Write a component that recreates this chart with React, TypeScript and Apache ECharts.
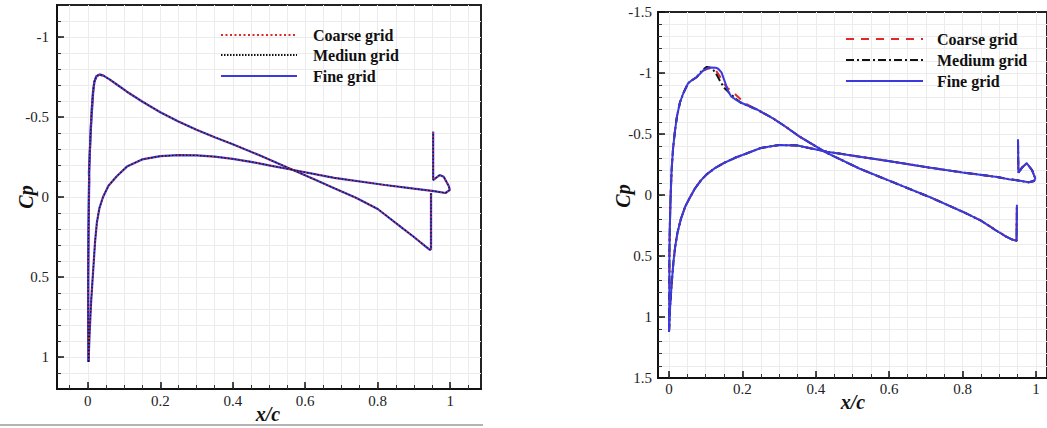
import React, { useEffect, useRef } from "react";
import * as echarts from "echarts";

// ---------- tick values ----------
const leftMajorX = [0, 0.2, 0.4, 0.6, 0.8, 1];
const leftMinorX = [-0.05, 0, 0.05, 0.1, 0.15, 0.2, 0.25, 0.3, 0.35, 0.4, 0.45, 0.5, 0.55, 0.6, 0.65, 0.7, 0.75, 0.8, 0.85, 0.9, 0.95, 1, 1.05];
const leftMajorY = [-1, -0.5, 0, 0.5, 1];
const leftMinorY = [-1.1, -1, -0.9, -0.8, -0.7, -0.6, -0.5, -0.4, -0.3, -0.2, -0.1, 0, 0.1, 0.2, 0.3, 0.4, 0.5, 0.6, 0.7, 0.8, 0.9, 1, 1.1];
const rightMajorX = [0, 0.2, 0.4, 0.6, 0.8, 1];
const rightMinorX = [0, 0.05, 0.1, 0.15, 0.2, 0.25, 0.3, 0.35, 0.4, 0.45, 0.5, 0.55, 0.6, 0.65, 0.7, 0.75, 0.8, 0.85, 0.9, 0.95, 1];
const rightMajorY = [-1.5, -1, -0.5, 0, 0.5, 1, 1.5];
const rightMinorY = [-1.4, -1.3, -1.2, -1.1, -1, -0.9, -0.8, -0.7, -0.6, -0.5, -0.4, -0.3, -0.2, -0.1, 0, 0.1, 0.2, 0.3, 0.4, 0.5, 0.6, 0.7, 0.8, 0.9, 1, 1.1, 1.2, 1.3, 1.4];

const leftLegend = ["Coarse grid", "Mediun grid", "Fine grid"];
const rightLegend = ["Coarse grid", "Medium grid", "Fine grid"];

// ---------- left chart data: [x/c, Cp] ----------
const leftUpper: number[][] = [
  [0.002, 1.03], [0.001, 0.8], [0.001, 0.5], [0.002, 0.2], [0.003, -0.05], [0.005, -0.25],
  [0.008, -0.42], [0.011, -0.55], [0.014, -0.65], [0.018, -0.72], [0.024, -0.755], [0.032, -0.765],
  [0.042, -0.76], [0.06, -0.735], [0.08, -0.703], [0.108, -0.658], [0.15, -0.597], [0.2, -0.53],
  [0.25, -0.472], [0.3, -0.42], [0.35, -0.374], [0.4, -0.33], [0.48, -0.255], [0.56, -0.175],
  [0.62, -0.115], [0.68, -0.055], [0.74, 0.005], [0.8, 0.075], [0.86, 0.18], [0.9, 0.25],
  [0.93, 0.305], [0.944, 0.33], [0.947, 0.325], [0.947, -0.025],
];
const leftUpperFineLE: number[][] = [
  [0.002, 1.03], [0.001, 0.8], [0.001, 0.5], [0.002, 0.2], [0.004, -0.1], [0.003, -0.15],
  [0.006, -0.3], [0.009, -0.46], [0.008, -0.4], [0.012, -0.58], [0.011, -0.52], [0.015, -0.66],
  [0.018, -0.72], [0.024, -0.755], [0.032, -0.765], [0.042, -0.76],
];
const leftLower: number[][] = [
  [0.002, 1.03], [0.005, 0.85], [0.009, 0.66], [0.013, 0.52], [0.016, 0.42], [0.02, 0.28],
  [0.025, 0.16], [0.032, 0.07], [0.042, 0.0], [0.057, -0.07], [0.08, -0.13], [0.108, -0.19],
  [0.15, -0.235], [0.2, -0.255], [0.25, -0.262], [0.3, -0.26], [0.35, -0.252], [0.4, -0.238],
  [0.45, -0.22], [0.5, -0.198], [0.56, -0.172], [0.68, -0.12], [0.82, -0.075], [0.9, -0.052],
  [0.955, -0.037], [0.987, -0.025], [0.999, -0.044], [0.996, -0.069], [0.982, -0.127],
  [0.971, -0.137], [0.959, -0.117], [0.953, -0.106], [0.953, -0.408],
];

// ---------- right chart data: [x/c, Cp] ----------
const rightUpperFine: number[][] = [
  [0.0, 1.12], [0.001, 0.8], [0.001, 0.5], [0.002, 0.29], [0.004, 0.05], [0.007, -0.2],
  [0.011, -0.38], [0.016, -0.52], [0.022, -0.65], [0.03, -0.76], [0.039, -0.834], [0.052, -0.916],
  [0.062, -0.94], [0.075, -0.965], [0.093, -1.02], [0.105, -1.04], [0.116, -1.045], [0.127, -1.044],
  [0.134, -1.035], [0.143, -1.005], [0.152, -0.93], [0.161, -0.85], [0.17, -0.805], [0.185, -0.775],
  [0.2, -0.752], [0.238, -0.703], [0.283, -0.629], [0.32, -0.555], [0.355, -0.48], [0.43, -0.345],
  [0.52, -0.215], [0.61, -0.105], [0.708, 0.014], [0.8, 0.137], [0.85, 0.21], [0.889, 0.287],
  [0.916, 0.336], [0.935, 0.365], [0.943, 0.372], [0.947, 0.376], [0.948, 0.08],
];
const rightUpperCoarse: number[][] = [
  [0.0, 1.12], [0.001, 0.8], [0.001, 0.5], [0.002, 0.29], [0.004, 0.05], [0.007, -0.2],
  [0.011, -0.38], [0.016, -0.52], [0.022, -0.65], [0.03, -0.76], [0.039, -0.834], [0.052, -0.916],
  [0.062, -0.94], [0.075, -0.965], [0.093, -1.02], [0.105, -1.035], [0.116, -1.04], [0.127, -1.025],
  [0.137, -0.98], [0.148, -0.92], [0.16, -0.875], [0.175, -0.84], [0.19, -0.8], [0.205, -0.755],
  [0.238, -0.703], [0.283, -0.629], [0.32, -0.555], [0.355, -0.48], [0.43, -0.345],
  [0.52, -0.215], [0.61, -0.105], [0.708, 0.014], [0.8, 0.137], [0.85, 0.21], [0.9, 0.305],
  [0.925, 0.355], [0.943, 0.372], [0.947, 0.376], [0.948, 0.08],
];
const rightUpperMedium: number[][] = [
  [0.0, 1.12], [0.001, 0.8], [0.001, 0.5], [0.002, 0.29], [0.004, 0.05], [0.007, -0.2],
  [0.011, -0.38], [0.016, -0.52], [0.022, -0.65], [0.03, -0.76], [0.039, -0.834], [0.052, -0.916],
  [0.062, -0.94], [0.075, -0.965], [0.093, -1.03], [0.103, -1.05], [0.112, -1.045], [0.122, -1.02],
  [0.13, -0.985], [0.138, -0.94], [0.15, -0.88], [0.165, -0.835], [0.182, -0.79], [0.196, -0.755],
  [0.238, -0.703], [0.283, -0.629], [0.32, -0.555], [0.355, -0.48], [0.43, -0.345],
  [0.52, -0.215], [0.61, -0.105], [0.708, 0.014], [0.8, 0.137], [0.85, 0.21], [0.889, 0.287],
  [0.916, 0.336], [0.935, 0.365], [0.943, 0.372], [0.947, 0.376], [0.948, 0.08],
];
const rightLower: number[][] = [
  [0.0, 1.12], [0.003, 0.92], [0.007, 0.74], [0.012, 0.55], [0.017, 0.42], [0.023, 0.31],
  [0.032, 0.2], [0.044, 0.096], [0.057, 0.02], [0.071, -0.055], [0.087, -0.12], [0.103, -0.17],
  [0.125, -0.22], [0.148, -0.26], [0.18, -0.305], [0.211, -0.34], [0.25, -0.385], [0.3, -0.41],
  [0.35, -0.405], [0.43, -0.355], [0.52, -0.314], [0.61, -0.273], [0.708, -0.225], [0.8, -0.185],
  [0.889, -0.15], [0.925, -0.13], [0.948, -0.12], [0.98, -0.104], [0.995, -0.115], [0.998, -0.137],
  [0.989, -0.205], [0.975, -0.26], [0.962, -0.225], [0.952, -0.183], [0.951, -0.457],
];

const BLUE = "#3a3ade";
const RED = "#e02828";
const BLACK = "#111111";
const SERIF = "Liberation Serif";

const labelStyle = {
  fontSize: 15, fontFamily: SERIF, color: "#222",
  textStyle: { fontSize: 15, fontFamily: SERIF, color: "#222" },
};

function line(name: string, data: number[][], axis: number, color: string, type: any, width: number, z: number) {
  return {
    type: "line", name, data, xAxisIndex: axis, yAxisIndex: axis, symbol: "none",
    lineStyle: { color, width, type }, z, silent: true, clip: true,
  };
}

function xAxes(gridIndex: number, min: number, max: number, major: number[], minor: number[], margin: number) {
  return [
    {
      type: "value", gridIndex, min, max, position: "bottom",
      axisLine: { show: true, onZero: false, lineStyle: { color: "#111", width: 2 } },
      axisTick: { show: true, inside: true, length: 7, customValues: major, lineStyle: { color: "#111", width: 1.5 } },
      axisLabel: { show: true, customValues: major, margin, ...labelStyle,
        formatter: (v: number) => String(+(+v).toFixed(2)) },
      splitLine: { show: false },
    },
    {
      type: "value", gridIndex, min, max, position: "bottom",
      axisLine: { show: false, onZero: false },
      axisTick: { show: true, inside: true, length: 4, customValues: minor, lineStyle: { color: "#333", width: 1 } },
      axisLabel: { show: false },
      splitLine: { show: true, lineStyle: { color: "#ececec", width: 1 } },
    },
  ];
}

function yAxes(gridIndex: number, min: number, max: number, major: number[], minor: number[], margin: number) {
  return [
    {
      type: "value", gridIndex, min, max, inverse: true, position: "left",
      axisLine: { show: true, onZero: false, lineStyle: { color: "#111", width: 2 } },
      axisTick: { show: true, inside: true, length: 7, customValues: major, lineStyle: { color: "#111", width: 1.5 } },
      axisLabel: { show: true, customValues: major, margin, ...labelStyle,
        formatter: (v: number) => String(+(+v).toFixed(2)) },
      splitLine: { show: false },
    },
    {
      type: "value", gridIndex, min, max, inverse: true, position: "left",
      axisLine: { show: false, onZero: false },
      axisTick: { show: true, inside: true, length: 4, customValues: minor, lineStyle: { color: "#333", width: 1 } },
      axisLabel: { show: false },
      splitLine: { show: true, lineStyle: { color: "#ececec", width: 1 } },
    },
  ];
}

function legendGroup(x1: number, x2: number, tx: number, ys: number[], names: string[], styles: any[]) {
  const els: any[] = [];
  names.forEach((n, i) => {
    const st: any = { stroke: styles[i].color, lineWidth: 2 };
    if (styles[i].dash) st.lineDash = styles[i].dash;
    els.push({ type: "line", z: 100, shape: { x1, y1: ys[i], x2, y2: ys[i] }, style: st });
    els.push({
      type: "text", z: 100, x: tx, y: ys[i],
      style: { text: n, fontSize: 16, fontWeight: "bold", fontFamily: SERIF, fill: "#111", textAlign: "left", textVerticalAlign: "middle", align: "left", verticalAlign: "middle" },
    });
  });
  return els;
}

function axisTitle(text: string, x: number, y: number, rot: number) {
  return {
    type: "text", z: 100, x, y, rotation: rot,
    style: { text, fontSize: 20, fontWeight: "bold", fontStyle: "italic", fontFamily: SERIF, fill: "#111", textAlign: "center", textVerticalAlign: "middle", align: "center", verticalAlign: "middle" },
  };
}

export default function App() {
  const ref = useRef<HTMLDivElement>(null);
  useEffect(() => {
    if (!ref.current) return;
    const chart = echarts.init(ref.current, null, { renderer: "svg" });
    const option: any = {
      animation: false,
      backgroundColor: "#ffffff",
      textStyle: { fontFamily: SERIF, fontSize: 15, color: "#222" },
      grid: [
        { left: 57, top: 5, right: 566, bottom: 39, show: true, borderColor: "#222", borderWidth: 2, backgroundColor: "transparent" },
        { left: 658, top: 12, right: -2, bottom: 50, show: true, borderColor: "#222", borderWidth: 2, backgroundColor: "transparent" },
      ],
      xAxis: [
        ...xAxes(0, -0.085, 1.085, leftMajorX, leftMinorX, 4),
        ...xAxes(1, -0.03, 1.03, rightMajorX, rightMinorX, 3),
      ],
      yAxis: [
        ...yAxes(0, -1.2, 1.2, leftMajorY, leftMinorY, 8),
        ...yAxes(1, -1.5, 1.5, rightMajorY, rightMinorY, 6),
      ],
      series: [
        line("L Fine upper", leftUpper, 0, BLUE, "solid", 2.2, 2),
        line("L Fine LE", leftUpperFineLE, 0, BLUE, "solid", 2.2, 2),
        line("L Fine lower", leftLower, 0, BLUE, "solid", 2.2, 2),
        line("L Coarse upper", leftUpper, 0, RED, [2, 2.5], 1.2, 3),
        line("L Coarse lower", leftLower, 0, RED, [2, 2.5], 1.2, 3),
        line("L Medium upper", leftUpper, 0, BLACK, [1.5, 2], 1.2, 4),
        line("L Medium lower", leftLower, 0, BLACK, [1.5, 2], 1.2, 4),
        line("R Coarse upper", rightUpperCoarse, 2, RED, [8, 7], 2, 2),
        line("R Coarse lower", rightLower, 2, RED, [8, 7], 2, 2),
        line("R Medium upper", rightUpperMedium, 2, BLACK, [8, 3, 2, 3], 2, 3),
        line("R Medium lower", rightLower, 2, BLACK, [8, 3, 2, 3], 2, 3),
        line("R Fine upper", rightUpperFine, 2, BLUE, "solid", 2, 4),
        line("R Fine lower", rightLower, 2, BLUE, "solid", 2, 4),
      ],
      graphic: [
        { type: "line", z: 100, shape: { x1: 0, y1: 425, x2: 483, y2: 425 }, style: { stroke: "#9a9a9a", lineWidth: 1.5 } },
        axisTitle("Cp", 26, 197, Math.PI / 2),
        axisTitle("x/c", 268, 414, 0),
        axisTitle("Cp", 623, 196, Math.PI / 2),
        axisTitle("x/c", 853, 402, 0),
        ...legendGroup(221, 297, 313, [35, 55, 76], leftLegend, [
          { color: RED, dash: [2, 2.5] }, { color: BLACK, dash: [1.5, 1.5] }, { color: BLUE },
        ]),
        ...legendGroup(846, 923, 937, [39, 60, 81], rightLegend, [
          { color: RED, dash: [8, 7] }, { color: BLACK, dash: [8, 3, 2, 3] }, { color: BLUE },
        ]),
      ],
    };
    chart.setOption(option);
    return () => chart.dispose();
  }, []);
  return (
    <div
      ref={ref}
      style={{ position: "fixed", left: 0, top: 0, width: 1047, height: 428, background: "#fff" }}
    />
  );
}
